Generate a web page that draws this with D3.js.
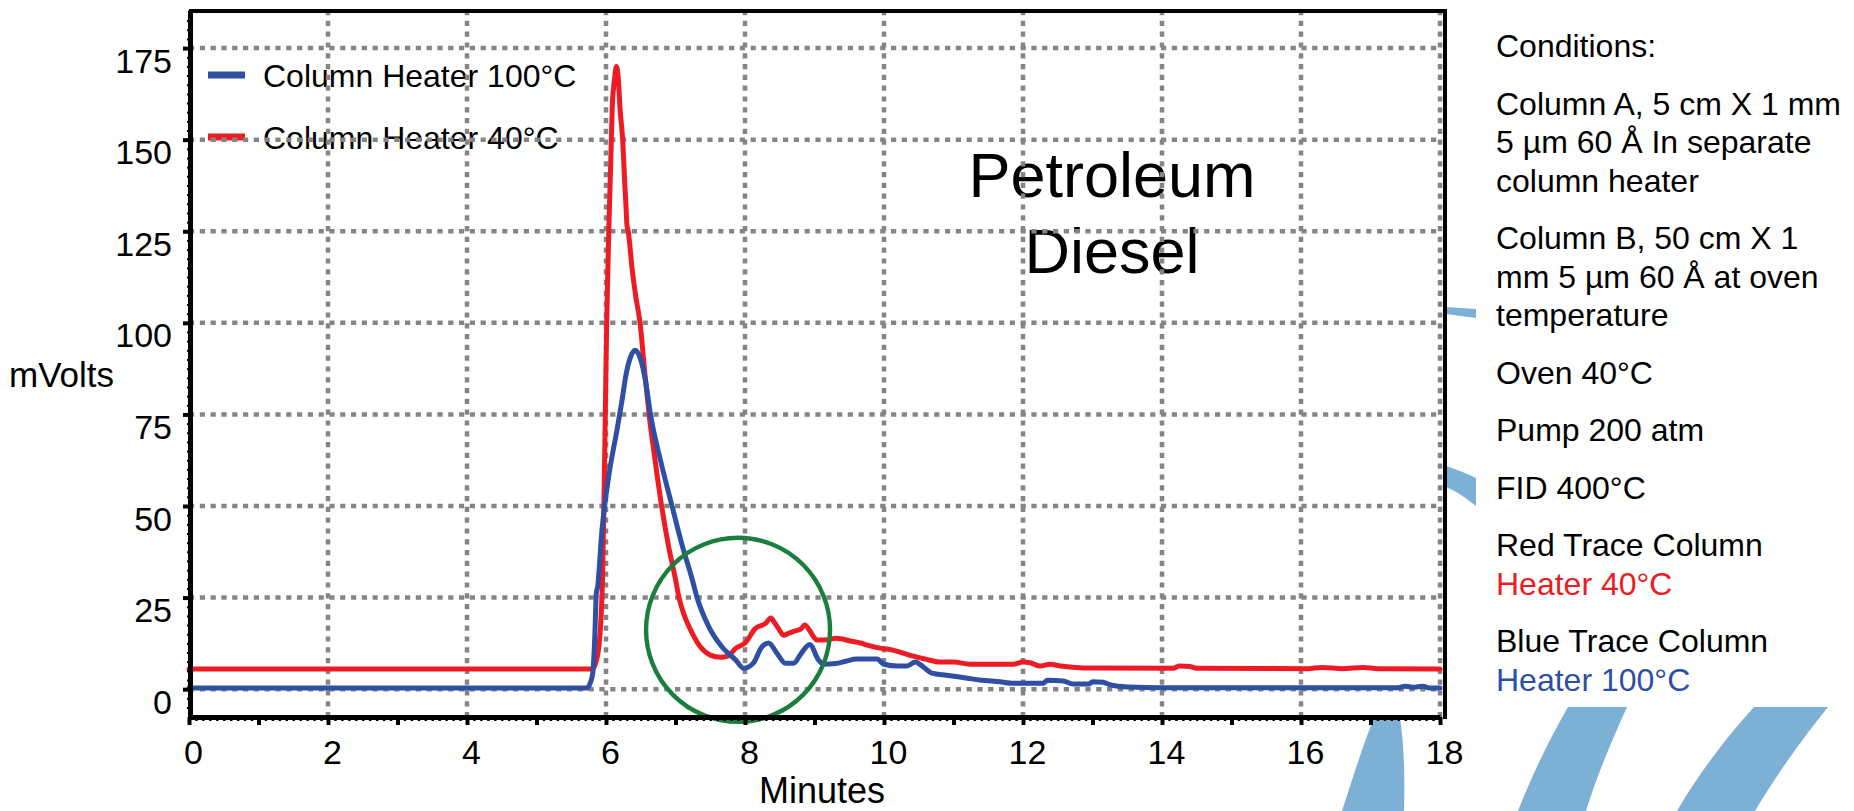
<!DOCTYPE html>
<html><head><meta charset="utf-8">
<script src="https://cdn.jsdelivr.net/npm/d3@7"></script>
<style>
html,body{margin:0;padding:0;background:#fff;}
svg{display:block;}
text{font-family:"Liberation Sans", Arial, Helvetica, sans-serif;}
</style>
</head><body>
<svg id="chart" width="1854" height="811"></svg>
<script>
// ---------------- DATA ----------------
const xTicks = [0, 2, 4, 6, 8, 10, 12, 14, 16, 18];
const yTicks = [0, 25, 50, 75, 100, 125, 150, 175];
const seriesNames = ["Column Heater 100°C", "Column Heater 40°C"];
const xTitle = "Minutes";
const yTitle = "mVolts";
const titleLines = ["Petroleum", "Diesel"];

// [minutes, mVolts]  red = column heater 40°C
const redTrace = [
  [0, 5.5], [5.80, 5.5], [5.84, 6.5], [5.87, 8.5], [5.90, 12], [5.93, 20], [5.95, 30],
  [5.97, 50], [5.99, 75], [6.01, 100], [6.04, 125], [6.07, 145], [6.09, 159], [6.12, 166],
  [6.15, 170], [6.18, 166], [6.20, 159], [6.24, 150], [6.27, 138], [6.29, 131], [6.30, 127],
  [6.32, 125], [6.38, 114], [6.43, 107], [6.49, 100], [6.56, 86], [6.62, 75], [6.71, 62],
  [6.80, 50], [6.90, 39], [7.00, 30], [7.05, 25], [7.12, 20.5], [7.24, 15.3], [7.36, 11.5],
  [7.50, 9.3], [7.65, 8.7], [7.75, 9.0], [7.87, 11.2], [8.00, 12.6], [8.15, 16.6], [8.30, 18],
  [8.37, 19.4], [8.42, 18.3], [8.48, 16.6], [8.56, 14.7], [8.62, 15.2], [8.70, 15.8],
  [8.80, 16.4], [8.86, 17.5], [8.93, 16], [8.99, 14.2], [9.04, 13.4], [9.20, 13.5],
  [9.30, 13.9], [9.40, 13.7], [9.50, 13.2], [9.66, 12.6], [9.80, 11.8], [9.94, 11.2],
  [10.10, 10.8], [10.23, 10.1], [10.42, 9.0], [10.60, 8.2], [10.81, 7.4], [11.00, 7.4],
  [11.24, 6.8], [11.86, 6.8], [12.00, 7.4], [12.10, 7.2], [12.25, 6.3], [12.39, 6.8],
  [12.54, 6.3], [12.87, 5.8], [14.16, 5.7], [14.25, 6.3], [14.40, 6.2], [14.50, 5.7],
  [16.10, 5.6], [16.30, 5.9], [16.60, 5.6], [16.90, 5.9], [17.10, 5.6], [18.0, 5.5]
];

// [minutes, mVolts]  blue = column heater 100°C
const blueTrace = [
  [0, 0.3], [5.73, 0.3], [5.77, 1.5], [5.81, 4.4], [5.84, 15], [5.86, 26], [5.88, 28],
  [5.94, 43], [6.03, 57], [6.16, 71], [6.24, 80], [6.28, 85], [6.35, 90.5], [6.42, 92.5],
  [6.49, 90.5], [6.57, 84], [6.64, 75], [6.79, 62], [6.95, 50], [7.10, 39], [7.24, 30],
  [7.31, 25], [7.48, 17], [7.67, 11.5], [7.87, 7.9], [7.98, 5.7], [8.12, 7.1], [8.24, 11.5],
  [8.34, 12.6], [8.46, 9.8], [8.58, 7.1], [8.70, 7.1], [8.81, 9.8], [8.93, 12.2], [9.06, 7.9],
  [9.13, 6.8], [9.30, 7.0], [9.45, 7.6], [9.60, 8.2], [9.90, 8.2], [10.00, 6.8], [10.20, 6.3],
  [10.33, 6.3], [10.45, 7.4], [10.55, 6.3], [10.69, 4.4], [10.90, 3.8], [11.20, 3.0],
  [11.38, 2.5], [11.67, 2.0], [11.86, 1.6], [12.29, 1.6], [12.35, 2.4], [12.58, 2.2],
  [12.72, 1.4], [12.95, 1.4], [13.00, 2.0], [13.15, 1.9], [13.25, 1.2], [13.50, 0.6],
  [14.0, 0.4], [17.40, 0.4], [17.50, 0.8], [17.62, 0.5], [17.75, 0.8], [17.85, 0.3], [18.0, 0.3]
];

// highlighted region (minutes, mVolts)
const highlightCenter = [7.9, 16.2];

const conditionParagraphs = [
  ["Conditions:"],
  ["Column A, 5 cm X 1 mm", "5 µm 60 Å In separate", "column heater"],
  ["Column B, 50 cm X 1", "mm 5 µm 60 Å at oven", "temperature"],
  ["Oven 40°C"],
  ["Pump 200 atm"],
  ["FID 400°C"],
  ["Red Trace Column", "Heater 40°C"],
  ["Blue Trace Column", "Heater 100°C"]
];

// ---------------- STYLE / LAYOUT ----------------
const RED = "#ED1C24", BLUE = "#2E4FA3", GREEN = "#1A7F3C", GRID = "#858585", LOGO = "#7DB0D5";
const colorFor = {"Heater 40°C": RED, "Heater 100°C": BLUE};
const W = 1854, H = 811;
const plot = {left: 189, right: 1440, top: 10, bottom: 717};
const yDomain = [-7.6, 185.4];

const svg = d3.select("#chart");
svg.append("rect").attr("width", W).attr("height", H).attr("fill", "#fff");

const x = d3.scaleLinear().domain([0, 18]).range([plot.left, plot.right]);
const y = d3.scaleLinear().domain(yDomain).range([plot.bottom, plot.top]);

// ---------------- background logo arcs (decoration) ----------------
const logo = svg.append("g").attr("fill", LOGO);
const logoShapes = [
  "M1446,307 L1476,309 L1476,318 L1446,314 Z",
  "M1446,466 C1458,470 1468,474 1476,478 L1476,506 C1466,498 1456,491 1446,487 Z",
  "M1374,718 L1400,718 C1404,745 1405,775 1404,811 L1342,811 C1352,780 1363,745 1374,718 Z",
  "M1568,707 L1627,707 C1610,745 1596,778 1586,811 L1518,811 C1532,775 1549,740 1568,707 Z",
  "M1754,707 L1828,707 C1800,742 1775,777 1755,811 L1677,811 C1698,775 1724,740 1754,707 Z"
];
logoShapes.forEach(d => logo.append("path").attr("d", d));

// ---------------- legend (below grid) ----------------
const legend = svg.append("g").attr("transform", "translate(208,75)");
seriesNames.forEach((name, i) => {
  const g = legend.append("g").attr("transform", `translate(0,${i * 62})`);
  g.append("line").attr("x1", 0).attr("x2", 37).attr("y1", 0).attr("y2", 0)
    .attr("stroke", i === 0 ? BLUE : RED).attr("stroke-width", 7);
  g.append("text").attr("x", 55).attr("y", 12).attr("font-size", 32).attr("fill", "#000").text(name);
});

// ---------------- title ----------------
svg.append("g").selectAll("text").data(titleLines).join("text")
  .attr("x", 1112).attr("y", (d, i) => 197 + i * 76)
  .attr("text-anchor", "middle").attr("font-size", 63).attr("fill", "#000").text(d => d);

// ---------------- grid ----------------
const grid = svg.append("g").attr("stroke", GRID).attr("stroke-width", 4.5).attr("stroke-dasharray", "5.2,5.6");
grid.selectAll("line.h").data(yTicks).join("line").attr("class", "h")
  .attr("x1", plot.left).attr("x2", plot.right).attr("y1", d => y(d)).attr("y2", d => y(d));
grid.selectAll("line.v").data(xTicks.filter(d => d > 0)).join("line").attr("class", "v")
  .attr("y1", plot.top).attr("y2", plot.bottom).attr("x1", d => x(d)).attr("x2", d => x(d));

// ---------------- traces ----------------
const line = d3.line().x(d => x(d[0])).y(d => y(d[1])).curve(d3.curveMonotoneX);
svg.append("path").datum(redTrace).attr("d", line).attr("fill", "none")
  .attr("stroke", RED).attr("stroke-width", 5).attr("stroke-linejoin", "round").attr("stroke-linecap", "round");
svg.append("path").datum(blueTrace).attr("d", line).attr("fill", "none")
  .attr("stroke", BLUE).attr("stroke-width", 5).attr("stroke-linejoin", "round").attr("stroke-linecap", "round");

// ---------------- highlight circle ----------------
svg.append("circle").attr("cx", x(highlightCenter[0])).attr("cy", y(highlightCenter[1])).attr("r", 92)
  .attr("fill", "none").attr("stroke", GREEN).attr("stroke-width", 4.4);

// ---------------- axes ----------------
const axisFont = 34;
// minor x ticks
svg.append("g").attr("transform", `translate(0,${plot.bottom})`)
  .call(d3.axisBottom(x).tickValues(d3.range(0, 18.01, 0.1)).tickSize(4).tickSizeOuter(0).tickFormat(""))
  .call(g => g.select(".domain").remove())
  .call(g => g.selectAll(".tick line").attr("stroke", "#000").attr("stroke-width", 2.5));
// major x ticks (every minute, labels on even)
const xAxis = svg.append("g").attr("transform", `translate(0,${plot.bottom})`)
  .call(d3.axisBottom(x).tickValues(d3.range(0, 19, 1)).tickSize(8).tickSizeOuter(0).tickPadding(15)
    .tickFormat(d => xTicks.includes(d) ? d : ""));
xAxis.select(".domain").attr("stroke", "#000").attr("stroke-width", 5);
xAxis.selectAll(".tick line").attr("stroke", "#000").attr("stroke-width", 4);
xAxis.selectAll(".tick text").attr("font-size", axisFont).attr("fill", "#000").attr("dx", 4)
  .attr("font-family", "Liberation Sans, Arial, sans-serif");

// minor y ticks
svg.append("g").attr("transform", `translate(${plot.left + 1},0)`)
  .call(d3.axisLeft(y).tickValues(d3.range(-5, 185, 2.5)).tickSize(3).tickSizeOuter(0).tickFormat(""))
  .call(g => g.select(".domain").remove())
  .call(g => g.selectAll(".tick line").attr("stroke", "#000").attr("stroke-width", 2));
const yAxis = svg.append("g").attr("transform", `translate(${plot.left + 1},0)`)
  .call(d3.axisLeft(y).tickValues(yTicks).tickSize(7).tickSizeOuter(0).tickPadding(11));
yAxis.select(".domain").attr("stroke", "#000").attr("stroke-width", 5);
yAxis.selectAll(".tick line").attr("stroke", "#000").attr("stroke-width", 4);
yAxis.selectAll(".tick text").attr("font-size", axisFont).attr("fill", "#000").attr("dy", "0.71em")
  .attr("font-family", "Liberation Sans, Arial, sans-serif");

// frame top and right
svg.append("line").attr("x1", plot.left).attr("x2", plot.right + 7).attr("y1", plot.top + 1).attr("y2", plot.top + 1)
  .attr("stroke", "#000").attr("stroke-width", 4);
svg.append("line").attr("x1", plot.right + 5).attr("x2", plot.right + 5).attr("y1", plot.top - 1).attr("y2", plot.bottom + 2)
  .attr("stroke", "#000").attr("stroke-width", 4);

// axis titles
svg.append("text").attr("x", 822).attr("y", 803).attr("text-anchor", "middle")
  .attr("font-size", 36).attr("fill", "#000").text(xTitle);
svg.append("text").attr("x", 9).attr("y", 387).attr("font-size", 35).attr("fill", "#000").text(yTitle);

// ---------------- conditions panel ----------------
const panel = svg.append("g").attr("transform", "translate(1496,0)");
let yy = 57;
conditionParagraphs.forEach((para, pi) => {
  if (pi > 0) yy += 57.5;
  para.forEach((ln, li) => {
    if (li > 0) yy += 38.5;
    panel.append("text").attr("x", 0).attr("y", yy).attr("font-size", 32)
      .attr("fill", colorFor[ln] || "#000").text(ln);
  });
});
</script>
</body></html>
